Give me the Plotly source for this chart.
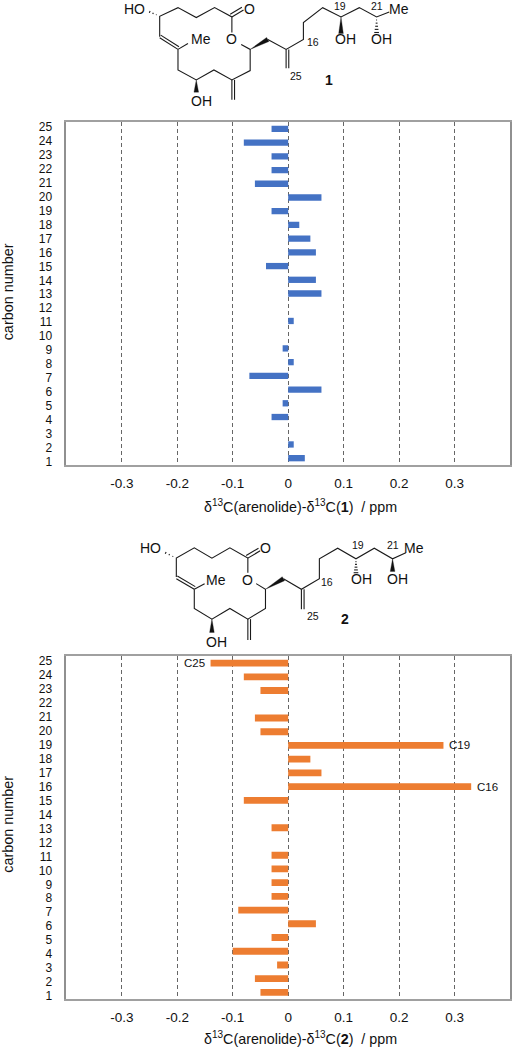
import plotly.graph_objects as go

W, H = 512, 1050
FONT = "Liberation Sans, Arial, sans-serif"

carbons = list(range(1, 26))
shift_1 = [0.03, 0.01, 0, -0.03, -0.01, 0.06, -0.07, 0.01, -0.01, 0, 0.01, 0, 0.06,
           0.05, -0.04, 0.05, 0.04, 0.02, -0.03, 0.06, -0.06, -0.03, -0.03, -0.08, -0.03]
shift_2 = [-0.05, -0.06, -0.02, -0.10, -0.03, 0.05, -0.09, -0.03, -0.03, -0.03, -0.03, 0, -0.03,
           0, -0.08, 0.33, 0.06, 0.04, 0.28, -0.05, -0.06, 0, -0.05, -0.08, -0.14]
labels_2 = {16: "C16", 19: "C19", 25: "C25"}
x_ticks = [-0.3, -0.2, -0.1, 0, 0.1, 0.2, 0.3]
x_tick_text = ["-0.3", "-0.2", "-0.1", "0", "0.1", "0.2", "0.3"]
BLUE, ORANGE = "#4472C4", "#ED7D31"
X_TITLE = "δ<sup>13</sup>C(arenolide)-δ<sup>13</sup>C(<b>%d</b>)  / ppm"
Y_TITLE = "carbon number"

# the reference's carbon labels are spaced slightly wider than its bars
y_tick_pos = [c - (3.5 - 5.5 * (c - 1) / 24) / 13.8 for c in carbons]

fig = go.Figure()
fig.add_trace(go.Bar(x=shift_1, y=carbons, orientation="h", marker_color=BLUE, marker_line_width=0,
                     width=0.46, xaxis="x", yaxis="y", showlegend=False))
fig.add_trace(go.Bar(x=shift_2, y=carbons, orientation="h", marker_color=ORANGE, marker_line_width=0,
                     width=0.5, xaxis="x2", yaxis="y2", showlegend=False))

def xaxis(anchor, ticklen):
    return dict(domain=[66.5 / W, 511 / W], range=[-0.4, 0.4], anchor=anchor,
                tickmode="array", tickvals=x_ticks, ticktext=x_tick_text, ticks="outside", ticklen=ticklen,
                tickcolor="rgba(0,0,0,0)", zeroline=False,
                tickfont=dict(size=13.5, color="#111"), showgrid=True, griddash="4px,3px",
                gridcolor="#666", gridwidth=1, showline=True, mirror=True, linecolor="#a0a0a0", linewidth=1.5)

def yaxis(y0, y1, anchor):
    return dict(domain=[1 - y1 / H, 1 - y0 / H], range=[0.5, 25.5], anchor=anchor,
                tickmode="array", tickvals=y_tick_pos, ticktext=[str(c) for c in carbons], ticks="outside",
                ticklen=10, tickcolor="rgba(0,0,0,0)", zeroline=False, showgrid=False,
                tickfont=dict(size=12, color="#111"),
                showline=True, mirror=True, linecolor="#909090", linewidth=1.5)

# ---- chemical structures, drawn as page decoration (zoomed-crop units, 3 per pixel)
def P(pt, o):
    return (pt[0] / 3 + o[0], pt[1] / 3 + o[1])

shapes, notes = [], []

def path(points, o, fill=None):
    pts = [P(p, o) for p in points]
    d = "M " + " L ".join(f"{x / W:.5f},{1 - y / H:.5f}" for x, y in pts)
    if fill:
        d += " Z"
    shapes.append(dict(type="path", xref="paper", yref="paper", path=d,
                       line=dict(color="#1a1a1a", width=1.1 if not fill else 0.3),
                       fillcolor=fill if fill else "rgba(0,0,0,0)"))

def double(a, b, o, dx, dy):
    path([a, b], o)
    path([(a[0] + dx, a[1] + dy), (b[0] + dx, b[1] + dy)], o)

def wedge(a, b, o, w=7):
    ux, uy = b[0] - a[0], b[1] - a[1]
    n = (ux * ux + uy * uy) ** 0.5
    nx, ny = -uy / n * w, ux / n * w
    path([a, (b[0] + nx, b[1] + ny), (b[0] - nx, b[1] - ny)], o, fill="#111")

def hashed(a, b, o, n=5, w=7):
    ux, uy = b[0] - a[0], b[1] - a[1]
    m = (ux * ux + uy * uy) ** 0.5
    nx, ny = -uy / m, ux / m
    for i in range(1, n + 1):
        t = i / n
        cx, cy = a[0] + ux * t, a[1] + uy * t
        path([(cx + nx * w * t, cy + ny * w * t), (cx - nx * w * t, cy - ny * w * t)], o)

def txt(s, pt, o, size=13.5, bold=False):
    x, y = P(pt, o)
    notes.append(dict(text=f"<b>{s}</b>" if bold else s, x=x / W, y=1 - y / H, xref="paper", yref="paper",
                      showarrow=False, xanchor="center", yanchor="middle", borderpad=0, borderwidth=0,
                      font=dict(size=size, color="#111")))

# structure 1
o1 = (100, 0)
path([(180, 105), (180, 43), (235, 17), (290, 47), (345, 17), (397, 45), (397, 92)], o1)
double((397, 45), (432, 24), o1, -5, -8)
path([(425, 128), (452, 143), (452, 207), (397, 235), (343, 205), (290, 235), (235, 205), (235, 143)], o1)
double((180, 108), (235, 143), o1, 3, -8)
path([(235, 143), (265, 125)], o1)
wedge((452, 143), (505, 113), o1)
path([(505, 113), (560, 143), (612, 113), (612, 62), (670, 17), (725, 45), (780, 17), (832, 45), (870, 30)], o1)
double((560, 143), (560, 200), o1, 8, 0)
double((397, 235), (397, 295), o1, 8, 0)
wedge((290, 235), (290, 272), o1)
wedge((725, 45), (725, 95), o1)
hashed((832, 45), (832, 92), o1)
hashed((180, 43), (150, 30), o1, n=3, w=3)
for s, p, z in [("HO", (105, 21), 14), ("O", (450, 21), 14), ("O", (397, 112), 14), ("Me", (303, 113), 14),
                ("OH", (305, 298), 14), ("OH", (740, 112), 14), ("OH", (848, 112), 14), ("Me", (900, 21), 14),
                ("19", (722, 13), 10.5), ("21", (832, 13), 10.5), ("16", (640, 120), 10.5), ("25", (590, 222), 10.5)]:
    txt(s, p, o1, z)
txt("1", (690, 235), o1, 14, True)

# structure 2
o2 = (100, 530)
path([(230, 145), (230, 88), (284, 57), (337, 88), (391, 57), (445, 88), (445, 132)], o2)
double((445, 88), (482, 66), o2, -5, -8)
path([(470, 165), (498, 182), (498, 240), (445, 272), (391, 240), (337, 272), (284, 240), (284, 182)], o2)
double((230, 150), (284, 182), o2, 3, -8)
path([(284, 182), (315, 165)], o2)
wedge((498, 182), (552, 150), o2)
path([(552, 150), (606, 182), (660, 150), (660, 90), (715, 58), (770, 90), (825, 58), (880, 90), (920, 72)], o2)
double((606, 182), (606, 242), o2, 8, 0)
double((445, 272), (445, 335), o2, 8, 0)
wedge((337, 272), (337, 312), o2)
wedge((880, 90), (880, 128), o2)
hashed((770, 90), (770, 132), o2)
hashed((230, 88), (198, 72), o2, n=3, w=3)
for s, p, z in [("HO", (152, 57), 14), ("O", (498, 57), 14), ("O", (445, 153), 14), ("Me", (350, 153), 14),
                ("OH", (352, 340), 14), ("OH", (786, 152), 14), ("OH", (895, 152), 14), ("Me", (945, 57), 14),
                ("19", (775, 47), 10.5), ("21", (882, 47), 10.5), ("16", (684, 160), 10.5), ("25", (642, 262), 10.5)]:
    txt(s, p, o2, z)
txt("2", (737, 272), o2, 14, True)

# axis titles, placed where the reference has them (off-centre from the plot)
for n, ty, cy in [(1, 507, 291), (2, 1042, 826.5)]:
    notes.append(dict(text=X_TITLE % n, x=301.5 / W, y=1 - ty / H, xref="paper", yref="paper", showarrow=False,
                      xanchor="center", yanchor="middle", font=dict(size=14.3, color="#111")))
    notes.append(dict(text=Y_TITLE, x=8 / W, y=1 - cy / H, xref="paper", yref="paper", showarrow=False,
                      textangle=-90, xanchor="center", yanchor="middle", font=dict(size=14.4, color="#111")))

# bar labels of chart 2, attached to their bars
for c, s in labels_2.items():
    v = shift_2[carbons.index(c)]
    notes.append(dict(text=s, x=v, y=c, xref="x2", yref="y2", showarrow=False,
                      xanchor="left" if v > 0 else "right", xshift=4 if v > 0 else -4, yanchor="middle",
                      font=dict(size=11.5, color="#111")))

fig.update_layout(
    width=W, height=H, margin=dict(l=0, r=0, t=0, b=0), autosize=False,
    paper_bgcolor="white", plot_bgcolor="white", font=dict(family=FONT, color="#111"),
    bargap=0.5, xaxis=xaxis("y", 5), yaxis=yaxis(120.7, 465.7, "x"),
    xaxis2=xaxis("y2", 4.5), yaxis2=yaxis(658, 1003, "x2"),
    shapes=shapes, annotations=notes,
)
fig.write_html("out.html", config={"displayModeBar": False},
               post_script="document.body.style.margin='0';document.body.style.overflow='hidden';")
